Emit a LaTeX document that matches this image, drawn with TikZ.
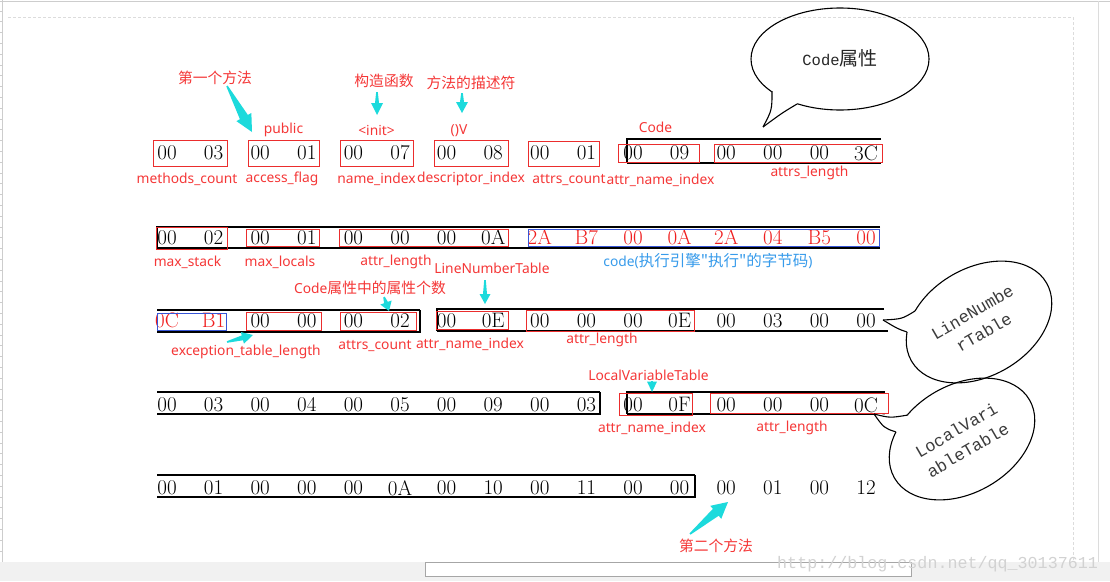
\documentclass[tikz,border=0pt]{standalone}
\usepackage{fontspec}
\usetikzlibrary{calc,arrows.meta}
\newfontfamily\labfont{Noto Sans}
\newfontfamily\cjk{Noto Sans CJK SC}
\newcommand\cjkl{\cjk\fontsize{14.8}{16}\selectfont}
\newfontfamily\lmono{Liberation Mono}
\definecolor{lred}{RGB}{245,55,55}
\definecolor{bred}{RGB}{235,45,45}
\definecolor{nred}{RGB}{240,30,30}
\definecolor{acyan}{RGB}{28,218,220}
\definecolor{bblue}{RGB}{55,85,215}
\definecolor{lblue}{RGB}{55,155,235}
\definecolor{uigray}{RGB}{205,205,205}
\definecolor{uidash}{RGB}{220,220,220}
\definecolor{uiband}{RGB}{241,241,241}
\definecolor{wmark}{RGB}{210,210,210}
\definecolor{bubtext}{RGB}{60,60,60}
\newcommand\fatarrow[5]{%
  \coordinate (fa-b) at ($(#2)!#3!(#1)$);
  \fill[acyan] ($(#1)!0.8pt!90:(#2)$) -- ($(fa-b)!#5!90:(#2)$) -- ($(fa-b)!#4!90:(#2)$) -- (#2)
    -- ($(fa-b)!#4!-90:(#2)$) -- ($(fa-b)!#5!-90:(#2)$) -- ($(#1)!0.8pt!-90:(#2)$) -- cycle;}
\tikzset{
  num/.style={font=\fontsize{21}{21}\selectfont, inner sep=0pt, anchor=center},
  lab/.style={font=\labfont\fontsize{13.8}{16}\selectfont, text=lred, inner sep=0pt},
  redbox/.style={draw=bred, line width=0.9pt, inner sep=0pt},
  bluebox/.style={draw=bblue, line width=0.9pt, inner sep=0pt},
  ftop/.style={line width=1.2pt},
  fbot/.style={line width=2pt},
  bubble/.style={line width=1.1pt},
  bubtxt/.style={rotate=30, font=\lmono\fontsize{17}{23}\selectfont, align=center, inner sep=0pt, text=bubtext},
}
\begin{document}
\begin{tikzpicture}[x=1pt,y=-1pt]
\useasboundingbox (0,0) rectangle (1110,581);
\fill[white] (0,0) rectangle (1110,581);
% window chrome
\draw[uigray, line width=1pt] (0,1) -- (1110,1);
\draw[uigray, line width=1pt] (2.5,0) -- (2.5,562);
\foreach \k in {0,...,50} \draw[uigray, line width=0.8pt] (0,{11+10.8*\k}) -- (2.5,{11+10.8*\k});
\draw[uidash, line width=0.8pt, dash pattern=on 3pt off 2pt] (8,17) -- (1073,17) -- (1073,562);
\draw[uidash, line width=1pt] (1098,1) -- (1098,562);
\fill[uiband] (0,562) rectangle (1110,581);
\draw[fill=white, draw=black!35, line width=1pt] (425,562.5) rectangle (911,576);
\node[font=\lmono\fontsize{16.7}{18}\selectfont, text=wmark, anchor=base west, inner sep=0pt] (wm) at (777,568) {http://blog.csdn.net/qq\_30137611};

% frames
\draw[ftop] (881,139) -- (627,139) -- (627,163); \draw[fbot] (627,163) -- (881,163);
\draw[ftop] (880,227) -- (157,227) -- (157,248); \draw[fbot] (157,248) -- (880,248);
\draw[ftop] (157,310) -- (420,310); \draw[fbot] (420,310) -- (420,332) -- (157,332);
\draw[ftop] (884,309) -- (437,309) -- (437,331); \draw[fbot] (437,331) -- (888,331);
\draw[ftop] (157,392) -- (600,392); \draw[fbot] (600,392) -- (600,414) -- (157,414);
\draw[ftop] (885,392) -- (627,392) -- (627,414); \draw[fbot] (627,414) -- (885,414);
\draw[ftop] (157,475) -- (695,475); \draw[fbot] (695,475) -- (695,497) -- (157,497);

% numbers
\foreach \v [count=\i from 0] in {00,03,00,01,00,07,00,08,00,01,00,09,00,00,00,3C}
  \node[num] (r1-\i) at ({167+46.6*\i},153) {\v};
\foreach \v [count=\i from 0] in {00,02,00,01,00,00,00,0A}
  \node[num] (r2-\i) at ({167+46.6*\i},237.5) {\v};
\foreach \v [count=\i from 8] in {2A,B7,00,0A,2A,04,B5,00}
  \node[num, text=nred] (r2-\i) at ({167+46.6*\i},237.5) {\v};
\foreach \v [count=\i from 0] in {0C,B1}
  \node[num, text=nred] (r3-\i) at ({167+46.6*\i},320.5) {\v};
\foreach \v [count=\i from 2] in {00,00,00,02,00,0E,00,00,00,0E,00,03,00,00}
  \node[num] (r3-\i) at ({167+46.6*\i},320.5) {\v};
\foreach \v [count=\i from 0] in {00,03,00,04,00,05,00,09,00,03,00,0F,00,00,00,0C}
  \node[num] (r4-\i) at ({167+46.6*\i},405) {\v};
\foreach \v [count=\i from 0] in {00,01,00,00,00,0A,00,10,00,11,00,00,00,01,00,12}
  \node[num] (r5-\i) at ({167+46.6*\i},488) {\v};

% boxes
\node[redbox, minimum width=74pt, minimum height=26pt] (bx-mc) at (190,153) {};
\node[redbox, minimum width=71pt, minimum height=26pt] (bx-af) at (283.5,153) {};
\node[redbox, minimum width=73pt, minimum height=26pt] (bx-ni) at (376.5,153) {};
\node[redbox, minimum width=74pt, minimum height=26pt] (bx-di) at (471,153) {};
\node[redbox, minimum width=71pt, minimum height=25pt] (bx-ac) at (563.5,154) {};
\node[redbox, minimum width=81pt, minimum height=18pt] (bx-ani) at (658.5,153) {};
\node[redbox, minimum width=168pt, minimum height=18pt] (bx-al) at (798,153) {};
\node[redbox, minimum width=71pt, minimum height=22pt] (bx-ms) at (191.5,238) {};
\node[redbox, minimum width=73pt, minimum height=17pt] (bx-ml) at (282.5,237.5) {};
\node[redbox, minimum width=169pt, minimum height=17pt] (bx-cl) at (423.5,237.5) {};
\node[bluebox, minimum width=351pt, minimum height=17pt] (bx-code) at (703.5,237.5) {};
\node[bluebox, minimum width=69pt, minimum height=17pt] (bx-et) at (191.5,321.5) {};
\node[redbox, minimum width=75pt, minimum height=18pt] (bx-etl) at (283.5,321) {};
\node[redbox, minimum width=76pt, minimum height=18pt] (bx-ac2) at (378,321) {};
\node[redbox, minimum width=72pt, minimum height=18pt] (bx-lni) at (472,320) {};
\node[redbox, minimum width=168pt, minimum height=21pt] (bx-lnl) at (610,320.5) {};
\node[redbox, minimum width=73pt, minimum height=22pt] (bx-lvi) at (655.5,404) {};
\node[redbox, minimum width=178pt, minimum height=20pt] (bx-lvl) at (799,403) {};

% labels
\node[lab] (l-m1) at (215,78) {\cjkl 第一个方法};
\node[lab] (l-gz) at (384,80.5) {\cjkl 构造函数};
\node[lab] (l-ms) at (471,83) {\cjkl 方法的描述符};
\node[lab] (l-pub) at (283.5,130) {public};
\node[lab] (l-init) at (376.5,130) {<init>};
\node[lab] (l-v) at (459,131) {()V};
\node[lab] (l-code) at (655.5,127) {Code};
\node[lab] (l-mc) at (187,179) {methods\_count};
\node[lab] (l-af) at (282,179) {access\_flag};
\node[lab] (l-ni) at (376.5,179) {name\_index};
\node[lab] (l-di) at (471,179) {descriptor\_index};
\node[lab] (l-ac) at (569,180) {attrs\_count};
\node[lab] (l-ani) at (660.5,180) {attr\_name\_index};
\node[lab] (l-al) at (809.5,173) {attrs\_length};
\node[lab] (l-mst) at (187.5,262) {max\_stack};
\node[lab] (l-mlo) at (280,262) {max\_locals};
\node[lab] (l-cl) at (396,262) {attr\_length};
\node[lab] (l-lnt) at (492,268.5) {LineNumberTable};
\node[lab, text=lblue] (l-code2) at (708,261) {code(\cjk\fontsize{15.5}{16}\selectfont 执行引擎"执行"的字节码\labfont\fontsize{13.8}{16}\selectfont )};
\node[lab] (l-cnt) at (370,288) {Code\cjkl 属性中的属性个数};
\node[lab] (l-etl) at (246,352) {exception\_table\_length};
\node[lab] (l-ac2) at (375,346) {attrs\_count};
\node[lab] (l-lni) at (470,344) {attr\_name\_index};
\node[lab] (l-lnl) at (602,340) {attr\_length};
\node[lab] (l-lvt) at (648.5,375) {LocalVariableTable};
\node[lab] (l-lvi) at (652,428) {attr\_name\_index};
\node[lab] (l-lvl) at (792,428) {attr\_length};
\node[lab] (l-m2) at (716,546) {\cjkl 第二个方法};

% cyan arrows
\coordinate (a1t) at (227,86);  \coordinate (a1h) at (252,132);
\fatarrow{a1t}{a1h}{17pt}{8.5pt}{4.5pt}
\coordinate (a2t) at (377,92);  \coordinate (a2h) at (377,115);
\fatarrow{a2t}{a2h}{12pt}{6pt}{2pt}
\coordinate (a3t) at (462,93);  \coordinate (a3h) at (462,113);
\fatarrow{a3t}{a3h}{11pt}{6pt}{2pt}
\coordinate (a4t) at (384,297); \coordinate (a4h) at (389,311);
\fatarrow{a4t}{a4h}{9pt}{6pt}{2pt}
\coordinate (a5t) at (485,280); \coordinate (a5h) at (485,304);
\fatarrow{a5t}{a5h}{10pt}{5.5pt}{2pt}
\coordinate (a6t) at (227,342); \coordinate (a6h) at (253,335);
\fatarrow{a6t}{a6h}{11pt}{6pt}{2.5pt}
\coordinate (a7t) at (652,381); \coordinate (a7h) at (652,392);
\fatarrow{a7t}{a7h}{10.5pt}{5pt}{0.8pt}
\coordinate (a8t) at (690,534); \coordinate (a8h) at (728,502);
\fatarrow{a8t}{a8h}{16pt}{8.5pt}{4.5pt}

% Code bubble
\coordinate (cb-c) at (840,59);
\draw[bubble] (cb-c) ellipse [x radius=89pt, y radius=51pt];
\coordinate (cb-tip) at (763,127);
\coordinate (cb-r1) at (772,91);
\coordinate (cb-r2) at (797,104);
\fill[white] (cb-r1) -- (cb-tip) -- (cb-r2) -- (800,95) -- (780,88) -- cycle;
\draw[bubble] (cb-r1) .. controls (772,110) .. (cb-tip);
\draw[bubble] (cb-tip) .. controls (782,113) .. (cb-r2);
\node[inner sep=0pt, text=black!85] (cb-txt) at (840,58) {\lmono\fontsize{15.5}{18}\selectfont Code\cjk\fontsize{19}{20}\selectfont 属性};

% LocalVariableTable bubble
\coordinate (lv-c) at (962,439);
\draw[bubble, rotate around={30:(lv-c)}] (lv-c) ellipse [x radius=78pt, y radius=54pt];
% LineNumberTable bubble
\coordinate (ln-c) at (979,322);
\draw[bubble, rotate around={30:(ln-c)}] (ln-c) ellipse [x radius=78pt, y radius=54pt];

\coordinate (ln-tip) at (883,320);
\coordinate (ln-r1) at (915,311);
\coordinate (ln-r2) at (907,332);
\fill[white] (ln-r1) -- (ln-tip) -- (ln-r2) -- (925,330) -- (925,315) -- cycle;
\draw[bubble] (ln-tip) .. controls (902,319) .. (ln-r1);
\draw[bubble] (ln-tip) .. controls (898,329) .. (ln-r2);

\coordinate (lv-tip) at (874,414);
\coordinate (lv-r1) at (908,415);
\coordinate (lv-r2) at (896,432);
\fill[white] (lv-r1) -- (lv-tip) -- (lv-r2) -- (910,432) -- (915,422) -- cycle;
\draw[bubble] (lv-tip) .. controls (890,418) .. (lv-r1);
\draw[bubble] (lv-tip) .. controls (884,428) .. (lv-r2);

\node[bubtxt] (ln-txt) at (978,322) {LineNumbe\\rTable};
\node[bubtxt] (lv-txt) at (962,440) {LocalVari\\ableTable};
\end{tikzpicture}
\end{document}
